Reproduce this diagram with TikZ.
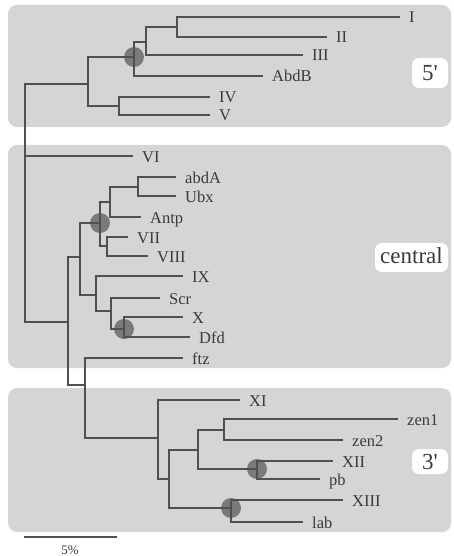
\documentclass[tikz,border=0pt]{standalone}
\usepackage{fontspec}
\setmainfont{Liberation Serif}
\definecolor{panel}{HTML}{D5D5D5}
\definecolor{branch}{HTML}{505050}
\definecolor{ink}{HTML}{3A3A3A}
\definecolor{dot}{HTML}{7A7A7A}
\begin{document}
\begin{tikzpicture}[x=1pt,y=-1pt,
  panelbox/.style={fill=panel,draw=none,rounded corners=9pt},
  tagbox/.style={fill=white,draw=none,rounded corners=7pt},
  br/.style={draw=branch,line width=1.1pt},
  lbl/.style={anchor=base west,inner sep=0pt,xshift=9pt,yshift=-6pt,text=ink,font=\fontsize{16.5}{18}\selectfont},
  tag/.style={text=ink,inner sep=0pt,font=\fontsize{23}{26}\selectfont},
  dotc/.style={fill=dot,draw=none}]
\useasboundingbox (0,0) rectangle (453,556);
\fill[white] (0,0) rectangle (453,556);
% panels
\path[panelbox] (8,5) rectangle (451,127);
\path[panelbox] (8,145) rectangle (451,368);
\path[panelbox] (8,388) rectangle (451,532);
% tag boxes
\path[tagbox] (412,58) rectangle (448,88);
\node[tag] (t5) at (430,73) {5\textquotesingle};
\path[tagbox] (375,243) rectangle (448,272);
\node[tag] (tc) at (411.5,256) {central};
\path[tagbox] (412,449) rectangle (448,474);
\node[tag] (t3) at (430,461.5) {3\textquotesingle};
% internal nodes
\coordinate (root) at (25,156);
\coordinate (n5) at (88,84);
\coordinate (nA) at (134,57);
\coordinate (nB) at (146,42);
\coordinate (nI) at (177,27);
\coordinate (nIV) at (119,106);
\coordinate (nc) at (68,322);
\coordinate (nC) at (80,257);
\coordinate (nD) at (100,223);
\coordinate (nE) at (110,202);
\coordinate (nabd) at (138,187);
\coordinate (nH) at (107,246);
\coordinate (nG) at (96,295);
\coordinate (nS) at (111,311);
\coordinate (nX) at (124,329);
\coordinate (nF) at (85,385);
\coordinate (nK) at (158,438);
\coordinate (nL) at (169,479);
\coordinate (nM) at (198,450);
\coordinate (nZ) at (224,430);
\coordinate (nQ) at (257,469);
\coordinate (nP) at (231,508);
% leaves
\coordinate (lI) at (400,17);
\coordinate (lII) at (327,37);
\coordinate (lIII) at (303,55);
\coordinate (lAbdB) at (263,76);
\coordinate (lIV) at (210,97);
\coordinate (lV) at (210,115);
\coordinate (lVI) at (133,156);
\coordinate (labdA) at (176,177);
\coordinate (lUbx) at (176,196);
\coordinate (lAntp) at (141,217);
\coordinate (lVII) at (128,237);
\coordinate (lVIII) at (148,256);
\coordinate (lIX) at (183,276);
\coordinate (lScr) at (160,298);
\coordinate (lX) at (183,317);
\coordinate (lDfd) at (190,337);
\coordinate (lftz) at (183,358);
\coordinate (lXI) at (240,400);
\coordinate (lzen1) at (398,419);
\coordinate (lzen2) at (343,440);
\coordinate (lXII) at (333,461);
\coordinate (lpb) at (320,479);
\coordinate (lXIII) at (343,500);
\coordinate (llab) at (303,522);
% dots
\foreach \c in {nA,nD,nX,nQ,nP} \fill[dotc] (\c) circle (10);
% branches
\draw[br] (root) |- (n5);
\draw[br] (root) |- (lVI);
\draw[br] (root) |- (nc);
\draw[br] (n5) |- (nA);
\draw[br] (n5) |- (nIV);
\draw[br] (nA) |- (nB);
\draw[br] (nA) |- (lAbdB);
\draw[br] (nB) |- (nI);
\draw[br] (nB) |- (lIII);
\draw[br] (nI) |- (lI);
\draw[br] (nI) |- (lII);
\draw[br] (nIV) |- (lIV);
\draw[br] (nIV) |- (lV);
\draw[br] (nc) |- (nC);
\draw[br] (nc) |- (nF);
\draw[br] (nC) |- (nD);
\draw[br] (nC) |- (nG);
\draw[br] (nD) |- (nE);
\draw[br] (nD) |- (nH);
\draw[br] (nE) |- (nabd);
\draw[br] (nE) |- (lAntp);
\draw[br] (nabd) |- (labdA);
\draw[br] (nabd) |- (lUbx);
\draw[br] (nH) |- (lVII);
\draw[br] (nH) |- (lVIII);
\draw[br] (nG) |- (lIX);
\draw[br] (nG) |- (nS);
\draw[br] (nS) |- (lScr);
\draw[br] (nS) |- (nX);
\draw[br] (nX) |- (lX);
\draw[br] (nX) |- (lDfd);
\draw[br] (nF) |- (lftz);
\draw[br] (nF) |- (nK);
\draw[br] (nK) |- (lXI);
\draw[br] (nK) |- (nL);
\draw[br] (nL) |- (nM);
\draw[br] (nL) |- (nP);
\draw[br] (nM) |- (nZ);
\draw[br] (nM) |- (nQ);
\draw[br] (nZ) |- (lzen1);
\draw[br] (nZ) |- (lzen2);
\draw[br] (nQ) |- (lXII);
\draw[br] (nQ) |- (lpb);
\draw[br] (nP) |- (lXIII);
\draw[br] (nP) |- (llab);
% labels
\node[lbl] (tI) at (lI) {I};
\node[lbl] (tII) at (lII) {II};
\node[lbl] (tIII) at (lIII) {III};
\node[lbl] (tAbdB) at (lAbdB) {AbdB};
\node[lbl] (tIV) at (lIV) {IV};
\node[lbl] (tV) at (lV) {V};
\node[lbl] (tVI) at (lVI) {VI};
\node[lbl] (tabdA) at (labdA) {abdA};
\node[lbl] (tUbx) at (lUbx) {Ubx};
\node[lbl] (tAntp) at (lAntp) {Antp};
\node[lbl] (tVII) at (lVII) {VII};
\node[lbl] (tVIII) at (lVIII) {VIII};
\node[lbl] (tIX) at (lIX) {IX};
\node[lbl] (tScr) at (lScr) {Scr};
\node[lbl] (tX) at (lX) {X};
\node[lbl] (tDfd) at (lDfd) {Dfd};
\node[lbl] (tftz) at (lftz) {ftz};
\node[lbl] (tXI) at (lXI) {XI};
\node[lbl] (tzen1) at (lzen1) {zen1};
\node[lbl] (tzen2) at (lzen2) {zen2};
\node[lbl] (tXII) at (lXII) {XII};
\node[lbl] (tpb) at (lpb) {pb};
\node[lbl] (tXIII) at (lXIII) {XIII};
\node[lbl] (tlab) at (llab) {lab};
% scale bar
\coordinate (sa) at (24,537);
\coordinate (sb) at (117,537);
\draw[br] (sa) -- (sb);
\node[text=ink,inner sep=0pt,font=\fontsize{13}{15}\selectfont] (sl) at (70,550) {5\%};
\end{tikzpicture}
\end{document}
